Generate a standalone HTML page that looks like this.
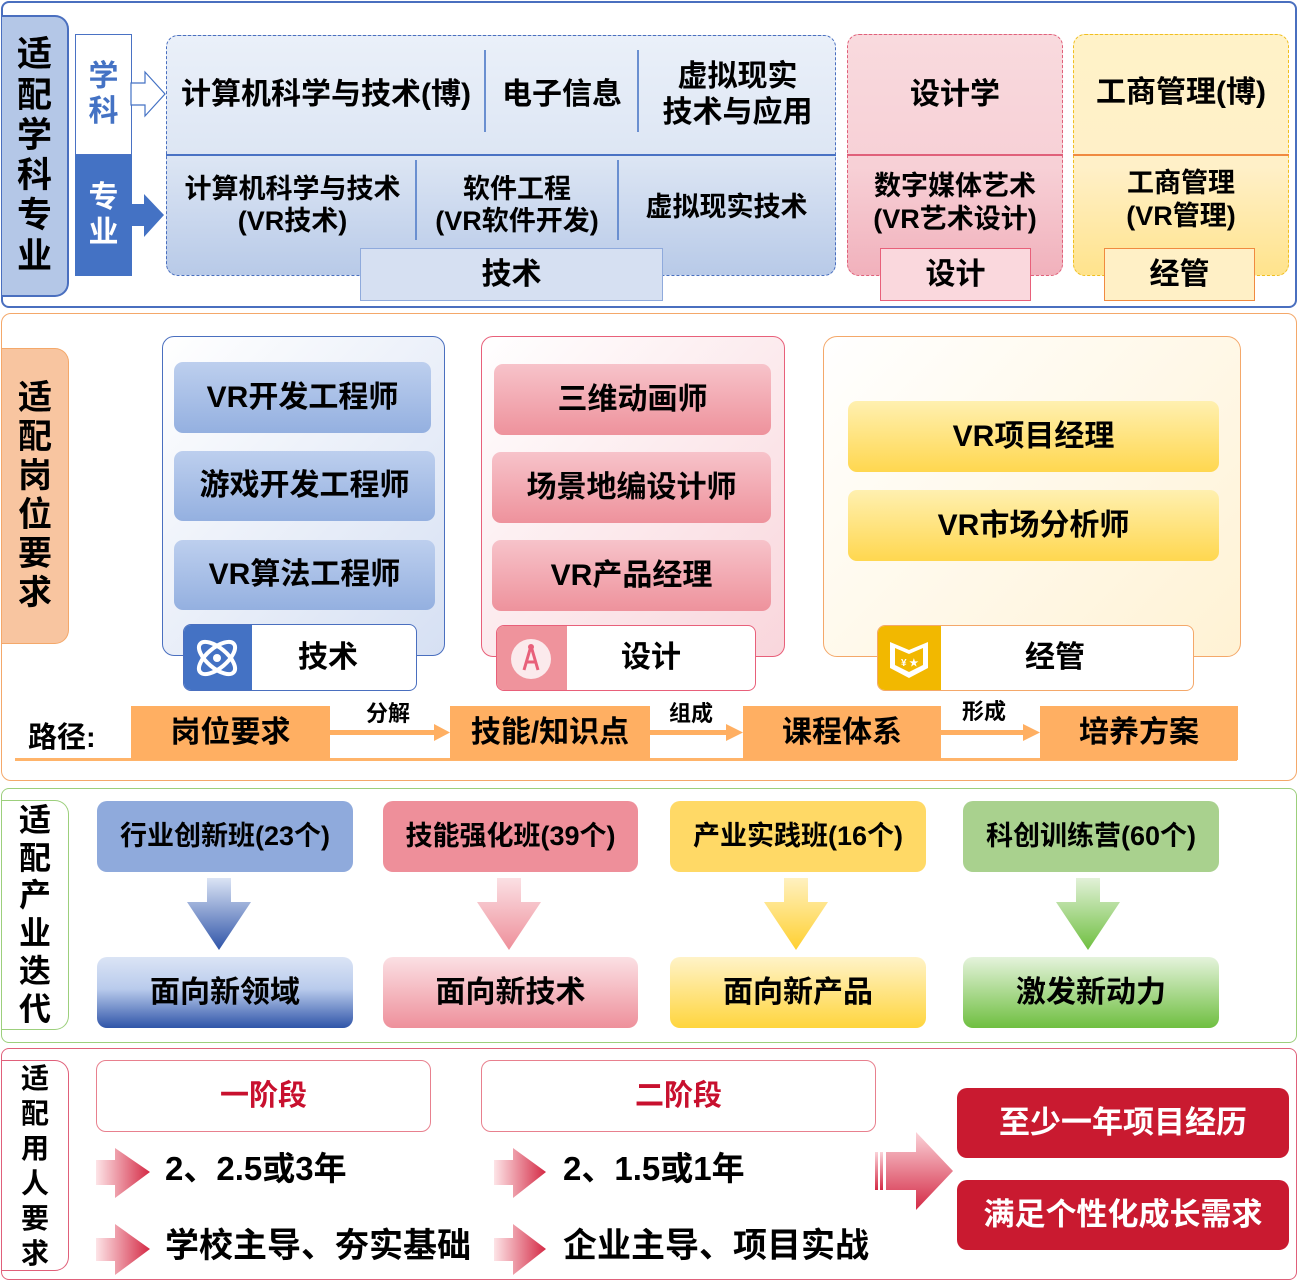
<!DOCTYPE html>
<html><head><meta charset="utf-8">
<style>
*{margin:0;padding:0;box-sizing:border-box}
body{width:1299px;height:1281px;position:relative;background:#fff;font-family:"Liberation Sans","Noto Sans CJK SC",sans-serif;font-weight:bold;color:#000;overflow:hidden}
.a{position:absolute}
.c{position:absolute;display:flex;align-items:center;justify-content:center;text-align:center;line-height:1.2}
.v{position:absolute;display:flex;flex-direction:column;align-items:center;justify-content:center;line-height:1.15}
</style></head><body>

<!-- Section 1 -->
<div class="a" style="left:1px;top:1px;width:1296px;height:307px;border:2px solid #4a6fbf;border-radius:8px"></div>
<div class="v" style="left:2px;top:15px;width:67px;height:282px;background:#b4c7e7;border:2px solid #4a6fbf;border-left:none;border-radius:0 14px 14px 0;font-size:35px">适<br>配<br>学<br>科<br>专<br>业</div>
<div class="v" style="left:75px;top:34px;width:57px;height:121px;background:#fff;border:1.5px solid #4a72c4;color:#4472c4;font-size:30px">学<br>科</div>
<div class="v" style="left:75px;top:155px;width:57px;height:121px;background:#4472c4;color:#fff;font-size:30px">专<br>业</div>
<svg class="a" style="left:130px;top:60px" width="40" height="190">
<polygon points="1,23 15,23 15,12 35,34 15,56 15,45 1,45" fill="#fff" stroke="#4472c4" stroke-width="1.2"/>
<polygon points="1,144 14,144 14,134 34,155 14,177 14,166 1,166" fill="#4472c4"/>
</svg>
<div class="a" style="left:166px;top:35px;width:670px;height:241px;border:1.5px dashed #4a6fbf;border-radius:12px;background:linear-gradient(#eaf0f9,#dde6f4 50%,#b8cae8)"></div>
<div class="a" style="left:166px;top:154px;width:670px;height:2px;background:#4a72c4"></div>
<div class="a" style="left:484px;top:50px;width:2px;height:82px;background:#6a8fd0"></div>
<div class="a" style="left:637px;top:50px;width:2px;height:82px;background:#6a8fd0"></div>
<div class="a" style="left:415px;top:160px;width:2px;height:80px;background:#6a8fd0"></div>
<div class="a" style="left:617px;top:160px;width:2px;height:80px;background:#6a8fd0"></div>
<div class="c" style="left:168px;top:70px;width:316px;height:50px;font-size:30px">计算机科学与技术(博)</div>
<div class="c" style="left:486px;top:70px;width:152px;height:50px;font-size:30px">电子信息</div>
<div class="c" style="left:640px;top:56px;width:195px;height:78px;font-size:30px">虚拟现实<br>技术与应用</div>
<div class="c" style="left:168px;top:170px;width:249px;height:70px;font-size:27px">计算机科学与技术<br>(VR技术)</div>
<div class="c" style="left:417px;top:170px;width:200px;height:70px;font-size:27px">软件工程<br>(VR软件开发)</div>
<div class="c" style="left:619px;top:180px;width:215px;height:55px;font-size:27px">虚拟现实技术</div>
<div class="c" style="left:360px;top:248px;width:303px;height:53px;background:#d6e0f2;border:1.5px solid #8faadc;font-size:30px">技术</div>

<div class="a" style="left:847px;top:34px;width:216px;height:242px;border:1.5px dashed #e0607a;border-radius:12px;background:linear-gradient(#f9dade,#f7d0d6 55%,#f1b1bc)"></div>
<div class="a" style="left:847px;top:154px;width:216px;height:2px;background:#e0607a"></div>
<div class="c" style="left:847px;top:70px;width:216px;height:50px;font-size:30px">设计学</div>
<div class="c" style="left:847px;top:165px;width:216px;height:75px;font-size:27px">数字媒体艺术<br>(VR艺术设计)</div>
<div class="c" style="left:880px;top:248px;width:151px;height:53px;background:#fad8dd;border:1.5px solid #e8607a;font-size:30px">设计</div>

<div class="a" style="left:1073px;top:34px;width:216px;height:242px;border:1.5px dashed #f0bf20;border-radius:12px;background:linear-gradient(#fff2c8,#fff0c8 55%,#ffe38c)"></div>
<div class="a" style="left:1073px;top:154px;width:216px;height:2px;background:#f08a40"></div>
<div class="c" style="left:1073px;top:65px;width:216px;height:55px;font-size:30px">工商管理(博)</div>
<div class="c" style="left:1073px;top:162px;width:216px;height:75px;font-size:27px">工商管理<br>(VR管理)</div>
<div class="c" style="left:1104px;top:248px;width:151px;height:53px;background:#fff0c6;border:1.5px solid #f08a40;font-size:30px">经管</div>

<!-- Section 2 -->
<div class="a" style="left:1px;top:313px;width:1296px;height:468px;border:1.5px solid #f4a86a;border-radius:10px"></div>
<div class="v" style="left:2px;top:348px;width:67px;height:296px;background:#f8c5a0;border:1.5px solid #f4a86a;border-left:none;border-radius:0 14px 14px 0;font-size:34px">适<br>配<br>岗<br>位<br>要<br>求</div>

<div class="a" style="left:162px;top:336px;width:283px;height:320px;border:1.5px solid #4a6fbf;border-radius:12px;background:linear-gradient(135deg,#fff,#d6e0f3)"></div>
<div class="c" style="left:174px;top:362px;width:257px;height:71px;border-radius:9px;background:linear-gradient(#bdcfee,#94b0e0);font-size:30px">VR开发工程师</div>
<div class="c" style="left:174px;top:451px;width:261px;height:70px;border-radius:9px;background:linear-gradient(#bdcfee,#94b0e0);font-size:30px">游戏开发工程师</div>
<div class="c" style="left:174px;top:540px;width:261px;height:70px;border-radius:9px;background:linear-gradient(#bdcfee,#94b0e0);font-size:30px">VR算法工程师</div>
<div class="a" style="left:183px;top:624px;width:234px;height:67px;background:#fff;border:1.5px solid #4a6fbf;border-radius:8px;overflow:hidden"><div class="a" style="left:0;top:0;width:68px;height:67px;background:#4472c4"></div></div>
<svg class="a" style="left:193px;top:635px" width="48" height="46"><g fill="none" stroke="#fff" stroke-width="4"><ellipse cx="24" cy="23" rx="22" ry="10" transform="rotate(40 24 23)"/><ellipse cx="24" cy="23" rx="22" ry="10" transform="rotate(-40 24 23)"/></g><circle cx="24" cy="23" r="4" fill="#fff"/></svg>
<div class="c" style="left:245px;top:624px;width:166px;height:67px;font-size:30px">技术</div>

<div class="a" style="left:481px;top:336px;width:304px;height:321px;border:1.5px solid #e8607a;border-radius:12px;background:linear-gradient(135deg,#fff,#f9d6dc)"></div>
<div class="c" style="left:494px;top:364px;width:277px;height:71px;border-radius:9px;background:linear-gradient(#f7c3ca,#ee929c);font-size:30px">三维动画师</div>
<div class="c" style="left:492px;top:452px;width:279px;height:71px;border-radius:9px;background:linear-gradient(#f7c3ca,#ee929c);font-size:30px">场景地编设计师</div>
<div class="c" style="left:492px;top:540px;width:279px;height:71px;border-radius:9px;background:linear-gradient(#f7c3ca,#ee929c);font-size:30px">VR产品经理</div>
<div class="a" style="left:496px;top:625px;width:260px;height:66px;background:#fff;border:1.5px solid #e8607a;border-radius:8px;overflow:hidden"><div class="a" style="left:0;top:0;width:70px;height:66px;background:#ef939c"></div></div>
<svg class="a" style="left:510px;top:638px" width="42" height="42"><circle cx="21" cy="21" r="20" fill="#fbeaec"/><path d="M21 8 L14 32 M21 8 L28 32 M16 24 L26 24" stroke="#e8607a" stroke-width="3" fill="none"/><circle cx="21" cy="9" r="3" fill="#e8607a"/></svg>
<div class="c" style="left:556px;top:625px;width:190px;height:66px;font-size:30px">设计</div>

<div class="a" style="left:823px;top:336px;width:418px;height:321px;border:1.5px solid #f4a86a;border-radius:14px;background:linear-gradient(135deg,#fff,#fff2d4)"></div>
<div class="c" style="left:848px;top:401px;width:371px;height:71px;border-radius:9px;background:linear-gradient(#fff0b0,#ffd74f);font-size:30px">VR项目经理</div>
<div class="c" style="left:848px;top:490px;width:371px;height:71px;border-radius:9px;background:linear-gradient(#fff0b0,#ffd74f);font-size:30px">VR市场分析师</div>
<div class="a" style="left:877px;top:625px;width:317px;height:66px;background:#fff;border:1.5px solid #f4a86a;border-radius:8px;overflow:hidden"><div class="a" style="left:0;top:0;width:63px;height:66px;background:#f2b800"></div></div>
<svg class="a" style="left:887px;top:638px" width="44" height="42"><path d="M3 4 L22 12 L41 4 L41 30 L22 40 L3 30 Z" fill="#fff"/><path d="M8 10 L22 16 L36 10 L36 27 L22 34 L8 27Z" fill="#f2b800"/><text x="14" y="28" font-size="10" fill="#fff" font-family="Liberation Sans">¥ ★</text></svg>
<div class="c" style="left:928px;top:625px;width:254px;height:66px;font-size:30px">经管</div>

<div class="a" style="left:28px;top:714px;font-size:29px">路径:</div>
<div class="a" style="left:15px;top:758px;width:1222px;height:3px;background:#ffb46a"></div>
<div class="c" style="left:131px;top:706px;width:199px;height:54px;background:#ffaf62;font-size:30px">岗位要求</div>
<div class="c" style="left:450px;top:706px;width:200px;height:54px;background:#ffaf62;font-size:30px">技能/知识点</div>
<div class="c" style="left:743px;top:706px;width:198px;height:54px;background:#ffaf62;font-size:30px">课程体系</div>
<div class="c" style="left:1040px;top:706px;width:198px;height:54px;background:#ffaf62;font-size:30px">培养方案</div>
<svg class="a" style="left:330px;top:720px" width="720" height="26">
<g fill="#ffaf62"><rect x="0" y="10" width="105" height="5"/><polygon points="104,4 120,12.5 104,21"/>
<rect x="320" y="10" width="78" height="5"/><polygon points="396,4 413,12.5 396,21"/>
<rect x="611" y="10" width="84" height="5"/><polygon points="693,4 710,12.5 693,21"/></g></svg>
<div class="a" style="left:366px;top:696px;font-size:22px">分解</div>
<div class="a" style="left:669px;top:696px;font-size:22px">组成</div>
<div class="a" style="left:962px;top:694px;font-size:22px">形成</div>

<!-- Section 3 -->
<div class="a" style="left:1px;top:788px;width:1296px;height:255px;border:1.5px solid #9ccf7c;border-radius:8px"></div>
<div class="v" style="left:2px;top:800px;width:67px;height:230px;background:#fff;border:1.5px solid #9ccf7c;border-left:none;border-radius:0 14px 14px 0;font-size:32px;line-height:1.18">适<br>配<br>产<br>业<br>迭<br>代</div>
<div class="c" style="left:97px;top:801px;width:256px;height:71px;border-radius:10px;background:#8faadc;font-size:27px">行业创新班(23个)</div>
<div class="c" style="left:383px;top:801px;width:255px;height:71px;border-radius:10px;background:#ee8f9a;font-size:27px">技能强化班(39个)</div>
<div class="c" style="left:670px;top:801px;width:256px;height:71px;border-radius:10px;background:#ffd966;font-size:27px">产业实践班(16个)</div>
<div class="c" style="left:963px;top:801px;width:256px;height:71px;border-radius:10px;background:#a9d18e;font-size:27px">科创训练营(60个)</div>
<svg class="a" style="left:0;top:876px" width="1299" height="76">
<defs>
<linearGradient id="g1" x1="0" y1="0" x2="0" y2="1"><stop offset="0" stop-color="#dbe4f5"/><stop offset="1" stop-color="#2f54a8"/></linearGradient>
<linearGradient id="g2" x1="0" y1="0" x2="0" y2="1"><stop offset="0" stop-color="#fbe0e4"/><stop offset="1" stop-color="#ee8f9a"/></linearGradient>
<linearGradient id="g3" x1="0" y1="0" x2="0" y2="1"><stop offset="0" stop-color="#fff1c0"/><stop offset="1" stop-color="#ffd030"/></linearGradient>
<linearGradient id="g4" x1="0" y1="0" x2="0" y2="1"><stop offset="0" stop-color="#e2f1d8"/><stop offset="1" stop-color="#6fbf40"/></linearGradient>
</defs>
<polygon points="207,2 231,2 231,26 251,26 219,74 187,26 207,26" fill="url(#g1)"/>
<polygon points="497,2 521,2 521,26 541,26 509,74 477,26 497,26" fill="url(#g2)"/>
<polygon points="784,2 808,2 808,26 828,26 796,74 764,26 784,26" fill="url(#g3)"/>
<polygon points="1076,2 1100,2 1100,26 1120,26 1088,74 1056,26 1076,26" fill="url(#g4)"/>
</svg>
<div class="c" style="left:97px;top:957px;width:256px;height:71px;border-radius:10px;background:linear-gradient(#dbe4f5,#b9cbec 45%,#2f54a8);font-size:30px">面向新领域</div>
<div class="c" style="left:383px;top:957px;width:255px;height:71px;border-radius:10px;background:linear-gradient(#fbe0e4,#ee909b);font-size:30px">面向新技术</div>
<div class="c" style="left:670px;top:957px;width:256px;height:71px;border-radius:10px;background:linear-gradient(#fff3c8,#ffd53d);font-size:30px">面向新产品</div>
<div class="c" style="left:963px;top:957px;width:256px;height:71px;border-radius:10px;background:linear-gradient(#e5f3dc,#6fbf40);font-size:30px">激发新动力</div>

<!-- Section 4 -->
<div class="a" style="left:1px;top:1048px;width:1296px;height:232px;border:1.5px solid #e0607a;border-radius:8px"></div>
<div class="v" style="left:2px;top:1060px;width:67px;height:211px;background:#fff;border:1.5px solid #e0607a;border-left:none;border-radius:0 14px 14px 0;font-size:28px;line-height:1.25">适<br>配<br>用<br>人<br>要<br>求</div>
<div class="c" style="left:96px;top:1060px;width:335px;height:72px;border:1.5px solid #e8808e;border-radius:10px;color:#c8102e;font-size:29px">一阶段</div>
<div class="c" style="left:481px;top:1060px;width:395px;height:72px;border:1.5px solid #e8808e;border-radius:10px;color:#c8102e;font-size:29px">二阶段</div>
<svg class="a" style="left:0;top:1130px" width="960" height="151">
<defs><linearGradient id="r" x1="0" y1="0" x2="1" y2="0"><stop offset="0" stop-color="#fde4e7"/><stop offset="1" stop-color="#d42a45"/></linearGradient>
<linearGradient id="rb" x1="0" y1="0" x2="0" y2="1"><stop offset="0" stop-color="#fbd3d9"/><stop offset="1" stop-color="#d42a45"/></linearGradient></defs>
<g fill="url(#r)">
<polygon points="96,30 115,30 115,18 150,42 115,68 115,55 96,55"/>
<polygon points="96,108 115,108 115,94 150,119 115,145 115,131 96,131"/>
<polygon points="494,30 513,30 513,18 546,42 513,68 513,55 494,55"/>
<polygon points="494,108 513,108 513,94 546,119 513,145 513,131 494,131"/>
</g>
<g fill="url(#rb)"><rect x="875" y="22" width="3" height="38"/><rect x="880" y="22" width="3" height="38"/><polygon points="886,22 916,22 916,2 953,41 916,80 916,60 886,60"/></g>
</svg>
<div class="a" style="left:165px;top:1149px;font-size:33px;line-height:40px">2、2.5或3年</div>
<div class="a" style="left:165px;top:1226px;font-size:34px;line-height:40px">学校主导、夯实基础</div>
<div class="a" style="left:563px;top:1149px;font-size:33px;line-height:40px">2、1.5或1年</div>
<div class="a" style="left:563px;top:1226px;font-size:34px;line-height:40px">企业主导、项目实战</div>
<div class="c" style="left:957px;top:1088px;width:332px;height:70px;border-radius:10px;background:#c91a30;color:#fff;font-size:31px">至少一年项目经历</div>
<div class="c" style="left:957px;top:1180px;width:332px;height:70px;border-radius:10px;background:#c91a30;color:#fff;font-size:31px">满足个性化成长需求</div>

</body></html>
